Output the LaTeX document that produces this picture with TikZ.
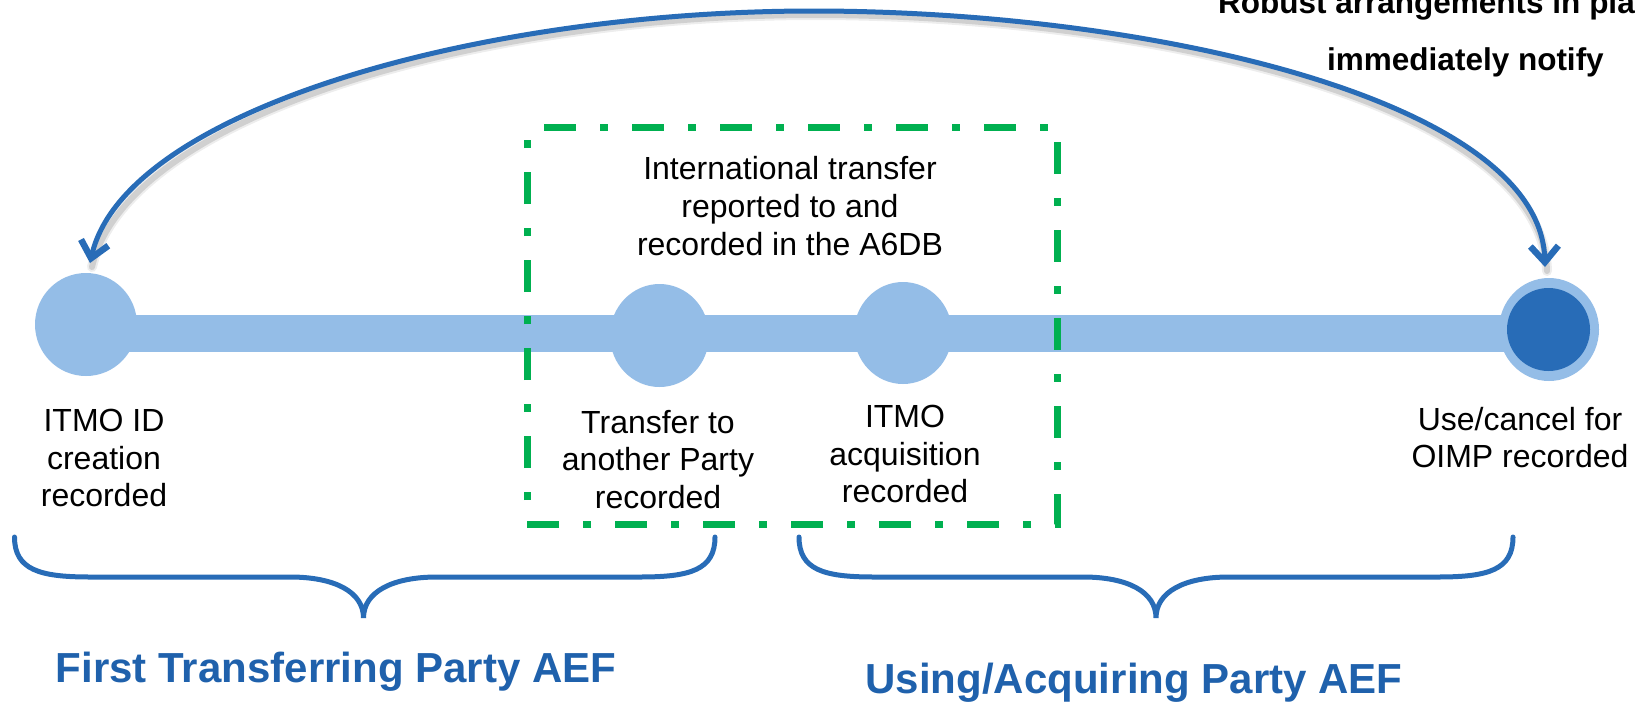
\documentclass[tikz,border=0pt]{standalone}
\usepackage{fontspec}
\setmainfont{Liberation Sans}
\usetikzlibrary{arrows.meta,shapes.geometric}
\definecolor{lblue}{RGB}{148,189,231}
\definecolor{dblue}{RGB}{40,108,183}
\definecolor{tblue}{RGB}{31,97,172}
\definecolor{pgreen}{RGB}{0,176,80}
\begin{document}
\begin{tikzpicture}[x=1pt,y=-1pt,
  dot/.style={ellipse,fill=lblue,inner sep=0pt},
  lbl/.style={inner sep=0pt,align=center,anchor=north,font=\fontsize{32}{37.5}\selectfont},
  ttl/.style={inner sep=0pt,anchor=base,text=tblue,font=\fontsize{42}{50}\selectfont\bfseries},
  note/.style={inner sep=0pt,anchor=base west,font=\fontsize{31.5}{38}\selectfont\bfseries},
  bracepath/.style={draw=dblue,line width=5pt,line cap=round},
  looparrow/.style={draw=dblue,line width=5pt,{Straight Barb[length=16pt,width=28pt,line width'=6.5pt]}-{Straight Barb[length=16pt,width=28pt,line width'=6.5pt]}},
  groupbox/.style={draw=pgreen,line width=7pt,dash pattern=on 32pt off 24pt on 8pt off 24pt,dash phase=71pt}
]
\useasboundingbox (0,0) rectangle (1641,702);
\fill[white] (0,0) rectangle (1641,702);

% timeline bar
\fill[lblue] (86,315) rectangle (1549,352);

% points on the timeline
\node[dot,minimum width=102pt,minimum height=103pt] (c1) at (86,324.5) {};
\node[dot,minimum width=99pt,minimum height=103pt] (c2) at (659.5,335.5) {};
\node[dot,minimum width=98pt,minimum height=102pt] (c3) at (903,333) {};
\node[dot,minimum width=100pt,minimum height=103pt] (c5) at (1549,329.5) {};
\node[ellipse,fill=dblue,inner sep=0pt,minimum size=83pt] (c5i) at (1548.5,329.5) {};

% labels
\node[lbl] (l1) at (104,409) {ITMO ID\\creation\\recorded};
\node[lbl,font=\fontsize{32}{38}\selectfont] (l0) at (790,156) {International transfer\\reported to and\\recorded in the A6DB};
\node[lbl] (l2) at (658,410) {Transfer to\\another Party\\recorded};
\node[lbl] (l3) at (905,405) {ITMO\\acquisition\\recorded};
\node[lbl] (l5) at (1520,407) {Use/cancel for\\OIMP recorded};

% dashed group box
\draw[groupbox] (527,127) -- (1057,127) -- (1057,524) -- (527,524) -- cycle;

% loop arrow with shadow
\coordinate (aL) at (90,263);
\coordinate (aR) at (1545,267);
\coordinate (aT) at (813,11);
\begin{scope}[transform canvas={xshift=2pt,yshift=-4pt}]
  \draw[black,opacity=0.07,line width=10pt,line cap=round] (aL) .. controls (125,110) and (480,11) .. (aT) .. controls (1150,11) and (1540,100) .. (aR);
  \draw[black,opacity=0.12,line width=6pt,line cap=round] (aL) .. controls (125,110) and (480,11) .. (aT) .. controls (1150,11) and (1540,100) .. (aR);
\end{scope}
\draw[looparrow] (aL) .. controls (125,110) and (480,11) .. (aT) .. controls (1150,11) and (1540,100) .. (aR);

% top-right note (cut off at the edge, as in the original)
\node[note] (n1) at (1218,13) {Robust arrangements in pla};
\node[note] (n2) at (1327,70) {immediately notify};

% braces
\draw[bracepath] (14.5,537) .. controls (14.5,570) and (40,577) .. (90,577)
  -- (290,577) .. controls (335,577) and (363.5,592) .. (363.5,618)
  .. controls (363.5,592) and (392,577) .. (437,577)
  -- (640,577) .. controls (690,577) and (715,570) .. (715,537);
\draw[bracepath] (799,537) .. controls (799,570) and (824,577) .. (874,577)
  -- (1083,577) .. controls (1128,577) and (1156,592) .. (1156,618)
  .. controls (1156,592) and (1184,577) .. (1229,577)
  -- (1438,577) .. controls (1488,577) and (1513,570) .. (1513,537);

% group titles
\node[ttl] (t1) at (336,682) {First Transferring Party AEF};
\node[ttl] (t2) at (1134,693) {Using/Acquiring Party AEF};
\end{tikzpicture}
\end{document}
